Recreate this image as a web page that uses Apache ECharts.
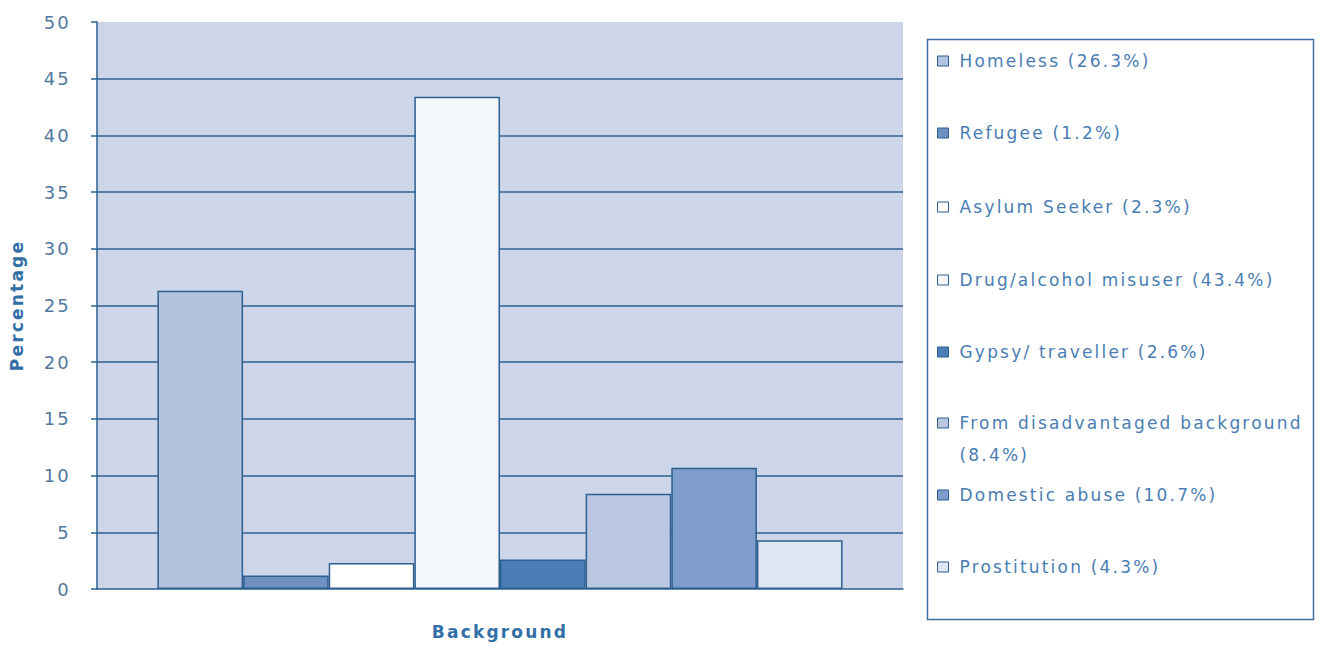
<!DOCTYPE html>
<html>
<head>
<meta charset="utf-8">
<title>Background</title>
<script src="https://cdn.jsdelivr.net/npm/echarts@6/dist/echarts.min.js"></script>
<style>
  html, body { margin: 0; padding: 0; background: #ffffff; }
  #chart { width: 1322px; height: 651px; }
  /* wide tracking for every label */
  #chart text { letter-spacing: 2.2px; }
</style>
</head>
<body>
<div id="chart"></div>
<script>
// Share of people by background (percent)
const categories = ['Background'];
const groupNames = [
  'Homeless',
  'Refugee',
  'Asylum Seeker',
  'Drug/alcohol misuser',
  'Gypsy/ traveller',
  'From disadvantaged background',
  'Domestic abuse',
  'Prostitution'
];
const groupValues = [26.3, 1.2, 2.3, 43.4, 2.6, 8.4, 10.7, 4.3];
const barColors = ['#b3c2de', '#6f91c2', '#ffffff', '#f3f7fc', '#4b7eb7', '#b9c7e0', '#7f9dca', '#dfe6f3'];
// vertical centre of each legend row
const legendRows = [61, 133, 207, 280, 352, 423, 495, 567];

const FONT = 'DejaVu Sans';
const DARK = '#2d5f8f';
const TEXT = '#4a7db3';

const series = groupNames.map((name, i) => ({
  name: name,
  type: 'bar',
  data: [groupValues[i]],
  barGap: 0,
  barCategoryGap: '15%',
  itemStyle: { color: barColors[i], borderColor: DARK, borderWidth: 1.5 },
  emphasis: { disabled: true }
}));

const legends = groupNames.map((name, i) => {
  const label = name + ' (' + groupValues[i] + '%)';
  const twoLine = name.length > 24;
  return {
    orient: 'vertical',
    left: 937,
    top: twoLine ? legendRows[i] - 48 : legendRows[i] - 10,
    padding: 0,
    itemWidth: 11,
    itemHeight: 10,
    itemGap: 0,
    icon: 'rect',
    selectedMode: false,
    data: [name],
    formatter: () => twoLine
      ? '\n' + name + '\n(' + groupValues[i] + '%)'
      : label,
    itemStyle: { borderColor: DARK, borderWidth: 1 },
    textStyle: {
      fontFamily: FONT,
      fontSize: 17,
      color: TEXT,
      lineHeight: twoLine ? 32 : 20,
      padding: [0, 0, 0, 6]
    }
  };
});

const chart = echarts.init(document.getElementById('chart'), null, { renderer: 'svg' });
chart.setOption({
  backgroundColor: '#ffffff',
  animation: false,
  grid: {
    left: 95, right: 419, top: 22, bottom: 62,
    show: true, backgroundColor: '#cdd6e8', borderWidth: 0
  },
  legend: legends,
  graphic: [{
    type: 'rect',
    shape: { x: 927.5, y: 39.5, width: 386, height: 580 },
    style: { fill: 'none', stroke: '#3f6f9c', lineWidth: 1.5 },
    silent: true
  }],
  xAxis: {
    type: 'category',
    data: categories,
    axisLine: { show: true, lineStyle: { color: DARK, width: 1.5 } },
    axisTick: { show: false },
    axisLabel: {
      margin: 34,
      fontFamily: FONT,
      fontSize: 17,
      fontWeight: 'bold',
      color: '#336fa6'
    }
  },
  yAxis: {
    type: 'value',
    min: 0, max: 50, interval: 5,
    name: 'Percentage',
    nameLocation: 'middle',
    nameGap: 72,
    nameRotate: 90,
    nameTextStyle: {
      fontFamily: FONT,
      fontSize: 17,
      fontWeight: 'bold',
      color: '#336fa6'
    },
    axisLine: { show: true, lineStyle: { color: DARK, width: 1.5 } },
    axisTick: { show: true, length: 6, lineStyle: { color: DARK, width: 1.5 } },
    axisLabel: {
      margin: 26,
      fontFamily: FONT,
      fontSize: 18,
      color: '#52789f'
    },
    splitLine: {
      show: true,
      showMinLine: false,
      showMaxLine: false,
      lineStyle: { color: DARK, width: 1.5 }
    }
  },
  series: series
});
</script>
</body>
</html>
